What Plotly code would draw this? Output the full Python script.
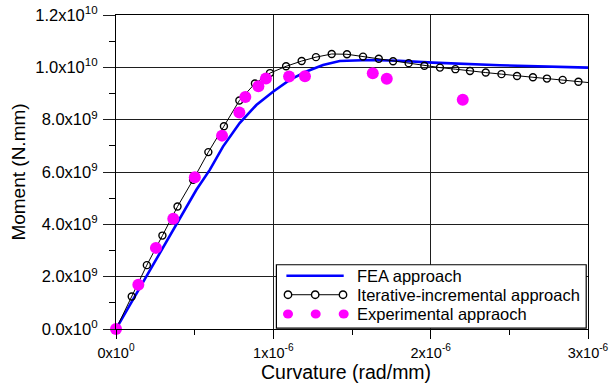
import plotly.graph_objects as go

# ---- data (curvature in rad/mm, moment in N.mm) ----
fea_x = [0, 0.20e-6, 0.40e-6, 0.511e-6, 0.596e-6, 0.680e-6, 0.786e-6, 0.892e-6, 0.998e-6,
         1.104e-6, 1.210e-6, 1.316e-6, 1.422e-6, 1.613e-6, 1.80e-6, 2.013e-6, 2.439e-6, 3.0e-6]
fea_y = [0, 2.08e9, 4.16e9, 5.32e9, 6.08e9, 6.97e9, 7.87e9, 8.56e9, 9.07e9,
         9.52e9, 9.84e9, 10.09e9, 10.24e9, 10.28e9, 10.25e9, 10.18e9, 10.08e9, 9.99e9]

iter_x = [0, 0.10e-6, 0.196e-6, 0.295e-6, 0.391e-6, 0.49e-6, 0.587e-6, 0.686e-6, 0.784e-6,
          0.883e-6, 0.979e-6, 1.081e-6, 1.180e-6, 1.271e-6, 1.371e-6, 1.468e-6, 1.570e-6,
          1.670e-6, 1.761e-6, 1.860e-6, 1.960e-6, 2.059e-6, 2.157e-6, 2.250e-6, 2.350e-6,
          2.450e-6, 2.549e-6, 2.650e-6, 2.739e-6, 2.839e-6, 2.939e-6, 3.0e-6]
iter_y = [0, 1.24e9, 2.44e9, 3.57e9, 4.68e9, 5.70e9, 6.76e9, 7.75e9, 8.73e9,
          9.38e9, 9.78e9, 10.04e9, 10.24e9, 10.39e9, 10.51e9, 10.50e9, 10.41e9,
          10.33e9, 10.23e9, 10.16e9, 10.06e9, 9.99e9, 9.93e9, 9.86e9, 9.80e9,
          9.74e9, 9.67e9, 9.62e9, 9.57e9, 9.52e9, 9.45e9, 9.42e9]
iter_marker_opacity = [1] * (len(iter_x) - 1) + [0]

exp_x = [0, 0.142e-6, 0.254e-6, 0.364e-6, 0.501e-6, 0.674e-6, 0.784e-6, 0.822e-6,
         0.905e-6, 0.953e-6, 1.100e-6, 1.201e-6, 1.632e-6, 1.721e-6, 2.204e-6]
exp_y = [0, 1.69e9, 3.10e9, 4.21e9, 5.80e9, 7.39e9, 8.27e9, 8.87e9,
         9.28e9, 9.57e9, 9.65e9, 9.66e9, 9.77e9, 9.56e9, 8.76e9]

x_tickvals = [0, 1e-6, 2e-6, 3e-6]
x_ticktext = ["0x10<sup>0</sup>", "1x10<sup>-6</sup>", "2x10<sup>-6</sup>", "3x10<sup>-6</sup>"]
y_tickvals = [0, 2e9, 4e9, 6e9, 8e9, 10e9, 12e9]
y_ticktext = ["0.0x10<sup>0</sup>", "2.0x10<sup>9</sup>", "4.0x10<sup>9</sup>", "6.0x10<sup>9</sup>",
              "8.0x10<sup>9</sup>", "1.0x10<sup>10</sup>", "1.2x10<sup>10</sup>"]

legend_names = ["FEA approach", "Iterative-incremental approach", "Experimental appraoch"]
x_title = "Curvature (rad/mm)"
y_title = "Moment (N.mm)"

FONT = "Liberation Sans, Arial, sans-serif"
BLUE = "#0000FF"
MAG = "#FF00FF"

fig = go.Figure()
fig.add_trace(go.Scatter(x=fea_x, y=fea_y, mode="lines", name=legend_names[0],
                         line=dict(color=BLUE, width=2.6), showlegend=False))
fig.add_trace(go.Scatter(x=iter_x, y=iter_y, mode="lines+markers", name=legend_names[1],
                         line=dict(color="black", width=1),
                         marker=dict(symbol="circle-open", size=7, color="black",
                                     opacity=iter_marker_opacity, line=dict(width=1.4)),
                         showlegend=False))
fig.add_trace(go.Scatter(x=exp_x, y=exp_y, mode="markers", name=legend_names[2],
                         marker=dict(symbol="circle", size=12, color=MAG),
                         cliponaxis=False, showlegend=False))

GRID = "#1e1e1e"
fig.update_xaxes(range=[0, 3e-6], tickvals=x_tickvals, ticktext=x_ticktext, automargin=False,
                 showgrid=True, gridcolor=GRID, gridwidth=1.2, zeroline=False,
                 showline=True, linecolor="black", linewidth=1.2, mirror=True,
                 ticks="outside", ticklen=9, tickcolor="black", ticklabelstandoff=1,
                 ticklabeloverflow="allow",
                 minor=dict(dtick=0.5e-6, tick0=0, ticks="outside", ticklen=5, tickcolor="black", showgrid=False),
                 tickfont=dict(family=FONT, size=14.5, color="black"))
fig.update_yaxes(range=[0, 1.2e10], tickvals=y_tickvals, ticktext=y_ticktext, automargin=False,
                 showgrid=True, gridcolor=GRID, gridwidth=1.2, zeroline=False,
                 showline=True, linecolor="black", linewidth=1.2, mirror=True,
                 ticks="outside", ticklen=12, tickcolor=GRID, ticklabelstandoff=2,
                 ticklabeloverflow="allow",
                 minor=dict(dtick=1e9, tick0=0, ticks="outside", ticklen=6, tickcolor="black", showgrid=False),
                 tickfont=dict(family=FONT, size=16.5, color="black"),
                 title=dict(text=y_title, font=dict(family=FONT, size=19, color="black"), standoff=4))

# ---- custom legend and x title (pixel geometry converted to paper coords) ----
L, T, W, H = 116.3, 15.0, 472.0, 314.3
def px(xp):
    return (xp - L) / W
def py(yp):
    return (T + H - yp) / H

shapes = [dict(type="rect", xref="paper", yref="paper", x0=px(276.7), x1=px(586.5), y0=py(328.5), y1=py(265),
               line=dict(color="black", width=1.2), fillcolor="white", layer="above")]
shapes.append(dict(type="line", xref="paper", yref="paper", x0=px(286.7), x1=px(344), y0=py(276), y1=py(276),
                   line=dict(color=BLUE, width=2.6), layer="above"))
shapes.append(dict(type="line", xref="paper", yref="paper", x0=px(288.3), x1=px(343.5), y0=py(295), y1=py(295),
                   line=dict(color="black", width=1), layer="above"))
for cx in [288.3, 315.5, 343.3]:
    shapes.append(dict(type="circle", xref="paper", yref="paper", xsizemode="pixel", ysizemode="pixel",
                       xanchor=px(cx), yanchor=py(295), x0=-3.7, x1=3.7, y0=-3.7, y1=3.7,
                       line=dict(color="black", width=1.4), fillcolor="white", layer="above"))
for cx in [288.3, 316.0, 344.0]:
    shapes.append(dict(type="circle", xref="paper", yref="paper", xsizemode="pixel", ysizemode="pixel",
                       xanchor=px(cx), yanchor=py(314.3), x0=-5, x1=5, y0=-4.6, y1=4.6,
                       line=dict(color=MAG, width=0), fillcolor=MAG, layer="above"))

annotations = []
for name, yy in zip(legend_names, [276, 295, 314.3]):
    annotations.append(dict(text=name, xref="paper", yref="paper", x=px(355), y=py(yy),
                            xanchor="left", yanchor="middle", showarrow=False,
                            font=dict(family=FONT, size=16.5, color="black")))
annotations.append(dict(text=x_title, xref="paper", yref="paper", x=px(346), y=py(372.5),
                        xanchor="center", yanchor="middle", showarrow=False,
                        font=dict(family=FONT, size=19.5, color="black")))

fig.update_layout(width=610, height=384, margin=dict(l=116, r=22, t=15, b=55),
                  paper_bgcolor="white", plot_bgcolor="white", showlegend=False,
                  shapes=shapes, annotations=annotations)

fig.write_html("out.html")
